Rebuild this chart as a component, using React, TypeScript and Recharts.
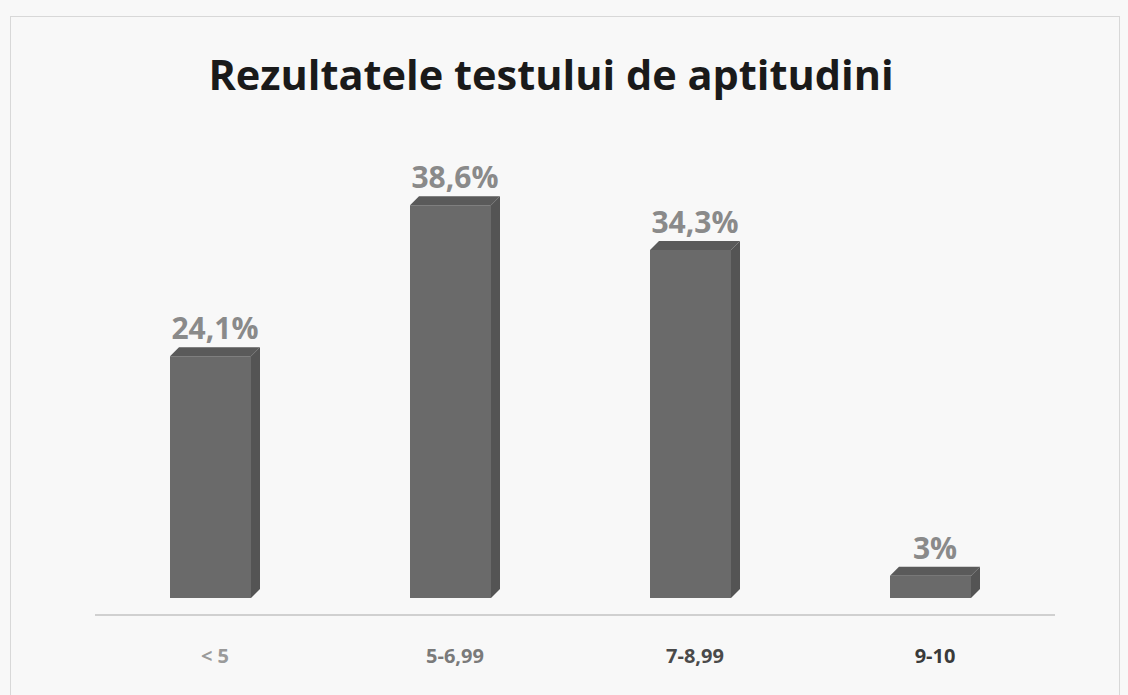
import { Bar, BarChart, LabelList, XAxis, YAxis } from "recharts";

const categories = ["< 5", "5-6,99", "7-8,99", "9-10"];
const shares = [24.1, 38.6, 34.3, 3];
const shareLabels = ["24,1%", "38,6%", "34,3%", "3%"];
const tickColors = ["#9a9a9a", "#7a7a7a", "#4a4a4a", "#3a3a3a"];

const data = categories.map((c, i) => ({ cat: c, value: shares[i], label: shareLabels[i] }));

// bar drawn as a small 3D box: front, top and right side
function BoxBar(props: any) {
  const { x, y, width, height } = props;
  const d = 9;
  const fw = width - d;
  const front = `M${x},${y + d} L${x + fw},${y + d} L${x + fw},${y + height} L${x},${y + height} Z`;
  const top = `M${x},${y + d} L${x + d},${y} L${x + width},${y} L${x + fw},${y + d} Z`;
  const side = `M${x + fw},${y + d} L${x + width},${y} L${x + width},${y + height - d} L${x + fw},${y + height} Z`;
  return (
    <g>
      <path d={front} fill="#6a6a6a" />
      <path d={top} fill="#5a5a5a" />
      <path d={side} fill="#545454" />
    </g>
  );
}

function Tick(props: any) {
  const { x, y, payload, index } = props;
  return (
    <text
      x={x}
      y={y + 40}
      textAnchor="middle"
      fontFamily="'Open Sans', sans-serif"
      fontWeight={700}
      fontSize={20}
      fill={tickColors[index] ?? "#666"}
    >
      {payload.value}
    </text>
  );
}

export default function App() {
  return (
    <div style={{ position: "absolute", left: 0, top: 0, width: 1128, height: 695, background: "#f8f8f8" }}>
      <div
        style={{
          position: "absolute",
          left: 10,
          top: 16,
          width: 1108,
          height: 690,
          border: "1px solid #d8d8d8",
        }}
      />
      <div
        style={{
          position: "absolute",
          left: 0,
          top: 46,
          width: 1102,
          textAlign: "center",
          fontFamily: "'Open Sans', sans-serif",
          fontWeight: 700,
          fontSize: 41.5,
          color: "#1a1a1a",
        }}
      >
        Rezultatele testului de aptitudini
      </div>
      <BarChart
        width={1128}
        height={695}
        data={data}
        margin={{ top: 188, right: 73, bottom: 0, left: 95 }}
        style={{ position: "absolute", left: 0, top: 0 }}
      >
        <XAxis
          dataKey="cat"
          axisLine={{ stroke: "#d0d0d0", strokeWidth: 2 }}
          tickLine={false}
          tick={<Tick />}
          height={80}
        />
        <YAxis hide domain={[-1.63, 39.4]} />
        <Bar dataKey="value" barSize={90} shape={<BoxBar />} isAnimationActive={false}>
          <LabelList
            dataKey="label"
            position="top"
            offset={8}
            fill="#8a8a8a"
            fontFamily="'Open Sans', sans-serif"
            fontWeight={700}
            fontSize={30}
          />
        </Bar>
      </BarChart>
    </div>
  );
}
